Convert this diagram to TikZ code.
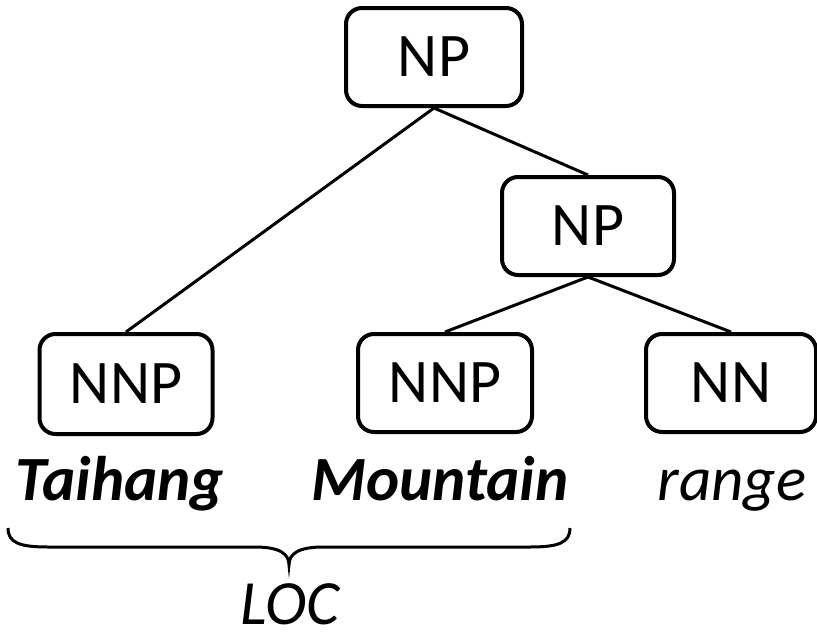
\documentclass[tikz,border=0pt]{standalone}
\usepackage{fontspec}
\setmainfont{Carlito}
\begin{document}
\begin{tikzpicture}[x=1pt,y=-1pt,
  tag/.style={draw,line width=4pt,rounded corners=16pt,minimum height=98pt,inner sep=0pt,font=\fontsize{62}{74}\selectfont},
  word/.style={anchor=base,inner sep=0pt},
  big/.style={font=\fontsize{63}{75}\selectfont\bfseries\itshape},
  slant/.style={font=\fontsize{63}{75}\selectfont\itshape},
  link/.style={line width=3pt}]
\useasboundingbox (0,0) rectangle (817,635);
\node[tag,minimum width=176pt] (np1) at (434,57) {NP};
\node[tag,minimum width=172pt] (np2) at (588,226) {NP};
\node[tag,minimum width=173pt,minimum height=100pt] (nnp1) at (126,384) {NNP};
\node[tag,minimum width=174pt,minimum height=98pt] (nnp2) at (445,383) {NNP};
\node[tag,minimum width=170pt,minimum height=98pt] (nn) at (731,383) {NN};
\draw[link] (np1.south) -- (nnp1.north);
\draw[link] (np1.south) -- (np2.north);
\draw[link] (np2.south) -- (nnp2.north);
\draw[link] (np2.south) -- (nn.north);
\node[word,big] (w1) at (120,500) {Taihang};
\node[word,big] (w2) at (440,500) {Mountain};
\node[word,slant] (w3) at (732,500) {range};
\coordinate (bl) at (8,528);
\coordinate (br) at (570,528);
\coordinate (bt) at (289,565);
\draw[link] (bl) .. controls (8,543) and (20,547) .. (48,547) -- (255,547)
  .. controls (280,547) and (289,554) .. (bt)
  .. controls (289,554) and (298,547) .. (323,547) -- (530,547)
  .. controls (558,547) and (570,543) .. (br);
\node[word,slant] (loc) at (290,624) {LOC};
\end{tikzpicture}
\end{document}
